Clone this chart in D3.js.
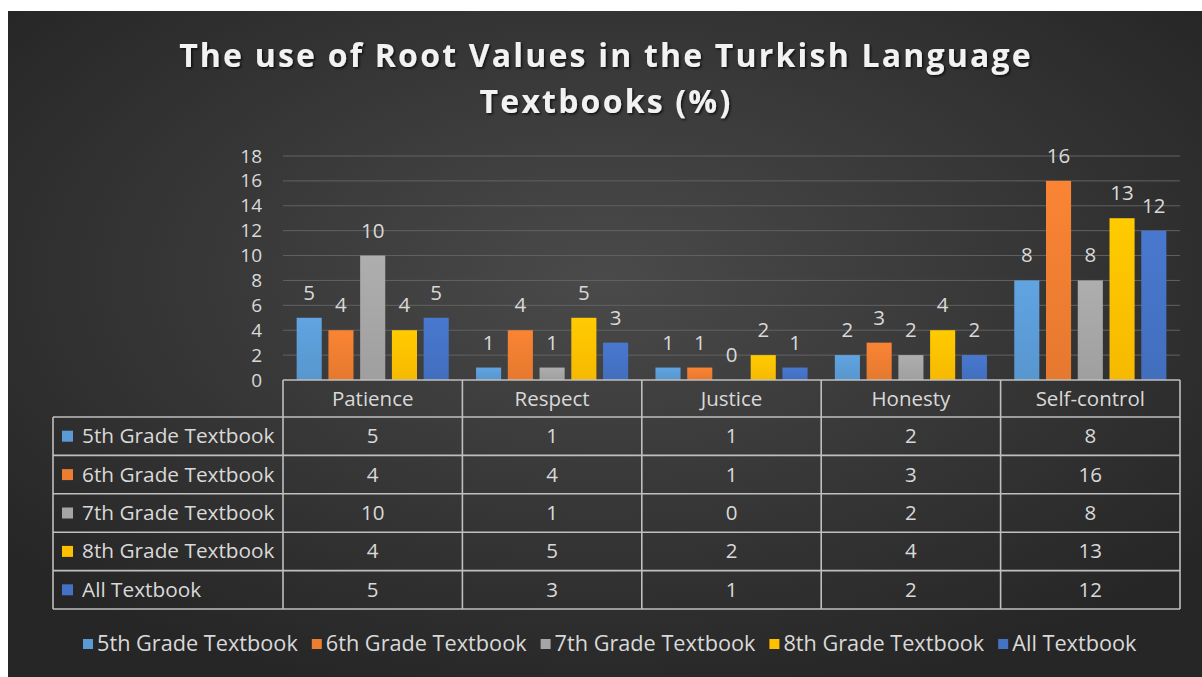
<!DOCTYPE html>
<html>
<head>
<meta charset="utf-8">
<script src="https://cdn.jsdelivr.net/npm/d3@7"></script>
<style>
  html, body { margin: 0; padding: 0; background: #fff; }
  svg { display: block; }
  text { font-family: "Open Sans", "Noto Sans", sans-serif; }
</style>
</head>
<body>
<div id="chart"></div>
<script>
const WIDTH = 1202;
const HEIGHT = 677;

// data
const categories = ["Patience", "Respect", "Justice", "Honesty", "Self-control"];
const seriesNames = ["5th Grade Textbook", "6th Grade Textbook", "7th Grade Textbook", "8th Grade Textbook", "All Textbook"];
const grade5 = [5, 1, 1, 2, 8];
const grade6 = [4, 4, 1, 3, 16];
const grade7 = [10, 1, 0, 2, 8];
const grade8 = [4, 5, 2, 4, 13];
const allBooks = [5, 3, 1, 2, 12];
const yTicks = [0, 2, 4, 6, 8, 10, 12, 14, 16, 18];
const titleLines = ["The use of Root Values in the Turkish Language", "Textbooks (%)"];

const seriesValues = [grade5, grade6, grade7, grade8, allBooks];
const colors = ["#5b9bd5", "#ed7d31", "#a5a5a5", "#ffc000", "#4472c4"];
const textColor = "#d9d9d9";
const lineColor = "#bfbfbf";

const plot = { left: 283, right: 1180, top: 156, bottom: 380 };
const table = { left: 53, headerBottom: 417, bottom: 609 };

let svg = d3.select("#chart").append("svg")
  .attr("width", WIDTH)
  .attr("height", HEIGHT);

let defs = svg.append("defs");

// background gradient
let bg = defs.append("radialGradient")
  .attr("id", "bg")
  .attr("cx", "0.5").attr("cy", "0.4").attr("r", "0.65");
bg.append("stop").attr("offset", "0%").attr("stop-color", "#4a4a4a");
bg.append("stop").attr("offset", "100%").attr("stop-color", "#262626");

// bar gradients, lighter at the top
colors.forEach((c, i) => {
  let g = defs.append("linearGradient")
    .attr("id", "bar" + i)
    .attr("x1", 0).attr("y1", 0).attr("x2", 0).attr("y2", 1);
  g.append("stop").attr("offset", "0%").attr("stop-color", d3.color(c).brighter(0.15));
  g.append("stop").attr("offset", "100%").attr("stop-color", d3.color(c).darker(0.1));
});

let shadow = defs.append("filter").attr("id", "shadow")
  .attr("x", "-5%").attr("y", "-20%").attr("width", "110%").attr("height", "140%");
shadow.append("feDropShadow")
  .attr("dx", 1.5).attr("dy", 1.5).attr("stdDeviation", 1.2)
  .attr("flood-color", "#000").attr("flood-opacity", 0.7);

svg.append("rect")
  .attr("x", 8).attr("y", 11)
  .attr("width", WIDTH - 8).attr("height", HEIGHT - 11)
  .attr("fill", "url(#bg)");

/* Title */
svg.append("g")
  .selectAll("text")
  .data(titleLines)
  .join("text")
  .attr("x", 606)
  .attr("y", (d, i) => 67 + i * 46)
  .attr("text-anchor", "middle")
  .attr("fill", "#f2f2f2")
  .attr("font-size", 32)
  .attr("font-weight", 700)
  .attr("letter-spacing", 2.2)
  .attr("filter", "url(#shadow)")
  .text(d => d);

/* Scales */
let x0 = d3.scaleBand()
  .domain(categories)
  .range([plot.left, plot.right])
  .padding(0);

let x1 = d3.scaleBand()
  .domain(seriesNames)
  .range([0, x0.bandwidth()])
  .paddingInner(0.21)
  .paddingOuter(0.43);

let y = d3.scaleLinear()
  .domain([0, 18])
  .range([plot.bottom, plot.top]);

let rows = d3.scaleBand()
  .domain(seriesNames)
  .range([table.headerBottom, table.bottom]);

/* Gridlines and y labels */
svg.append("g")
  .selectAll("line")
  .data(yTicks.filter(d => d > 0))
  .join("line")
  .attr("x1", plot.left).attr("x2", plot.right)
  .attr("y1", d => y(d)).attr("y2", d => y(d))
  .attr("stroke", "#626262")
  .attr("stroke-width", 1);

let yAxis = d3.axisLeft(y)
  .tickValues(yTicks)
  .tickSize(0)
  .tickPadding(21);

let yg = svg.append("g")
  .attr("transform", "translate(" + plot.left + ",0)")
  .call(yAxis);
yg.select(".domain").remove();
yg.selectAll("text")
  .attr("fill", textColor)
  .attr("font-size", 19)
  .attr("font-family", "'Open Sans', sans-serif");

/* Bars */
let groups = svg.append("g")
  .selectAll("g")
  .data(categories)
  .join("g")
  .attr("transform", d => "translate(" + x0(d) + ",0)");

groups.selectAll("rect")
  .data((c, ci) => seriesNames.map((s, si) => ({ s: s, si: si, v: seriesValues[si][ci] })))
  .join("rect")
  .attr("x", d => x1(d.s))
  .attr("width", x1.bandwidth())
  .attr("y", d => y(d.v))
  .attr("height", d => y(0) - y(d.v))
  .attr("fill", d => "url(#bar" + d.si + ")");

groups.selectAll("text")
  .data((c, ci) => seriesNames.map((s, si) => ({ s: s, si: si, v: seriesValues[si][ci] })))
  .join("text")
  .attr("x", d => x1(d.s) + x1.bandwidth() / 2)
  .attr("y", d => y(d.v) - 18)
  .attr("text-anchor", "middle")
  .attr("fill", textColor)
  .attr("font-size", 20.5)
  .text(d => d.v);

/* Data table */
let tbl = svg.append("g");

// header row text
tbl.selectAll(".head")
  .data(categories)
  .join("text")
  .attr("class", "head")
  .attr("x", d => x0(d) + x0.bandwidth() / 2)
  .attr("y", (plot.bottom + table.headerBottom) / 2 + 7)
  .attr("text-anchor", "middle")
  .attr("fill", textColor)
  .attr("font-size", 20.5)
  .text(d => d);

// row labels with legend keys
let rowG = tbl.selectAll(".row")
  .data(seriesNames)
  .join("g")
  .attr("class", "row")
  .attr("transform", d => "translate(0," + rows(d) + ")");

rowG.append("rect")
  .attr("x", table.left + 9)
  .attr("y", rows.bandwidth() / 2 - 5.5)
  .attr("width", 11).attr("height", 11)
  .attr("fill", (d, i) => colors[i]);

rowG.append("text")
  .attr("x", table.left + 29)
  .attr("y", rows.bandwidth() / 2 + 7)
  .attr("fill", textColor)
  .attr("font-size", 20.8)
  .text(d => d);

rowG.selectAll(".cell")
  .data((d, si) => categories.map((c, ci) => ({ c: c, v: seriesValues[si][ci] })))
  .join("text")
  .attr("class", "cell")
  .attr("x", d => x0(d.c) + x0.bandwidth() / 2)
  .attr("y", rows.bandwidth() / 2 + 7)
  .attr("text-anchor", "middle")
  .attr("fill", textColor)
  .attr("font-size", 20.5)
  .text(d => d.v);

// table lines
let hLines = [{ y: plot.bottom, x1: plot.left }]
  .concat(seriesNames.map(s => ({ y: rows(s), x1: table.left })))
  .concat([{ y: table.bottom, x1: table.left }]);

tbl.selectAll(".hline")
  .data(hLines)
  .join("line")
  .attr("class", "hline")
  .attr("x1", d => d.x1).attr("x2", plot.right)
  .attr("y1", d => d.y).attr("y2", d => d.y)
  .attr("stroke", lineColor).attr("stroke-width", 1.6);

let vLines = [{ x: table.left, y1: table.headerBottom }]
  .concat(categories.map(c => ({ x: x0(c), y1: plot.bottom })))
  .concat([{ x: plot.right, y1: plot.bottom }]);

tbl.selectAll(".vline")
  .data(vLines)
  .join("line")
  .attr("class", "vline")
  .attr("x1", d => d.x).attr("x2", d => d.x)
  .attr("y1", d => d.y1).attr("y2", table.bottom)
  .attr("stroke", lineColor).attr("stroke-width", 1.6);

/* Bottom legend */
let legend = svg.append("g").attr("transform", "translate(0,644)");
let lx = 83;
seriesNames.forEach((s, i) => {
  let item = legend.append("g").attr("transform", "translate(" + lx + ",0)");
  item.append("rect")
    .attr("x", 0).attr("y", -5)
    .attr("width", 10).attr("height", 10)
    .attr("fill", colors[i]);
  let t = item.append("text")
    .attr("x", 14).attr("y", 7)
    .attr("fill", textColor)
    .attr("font-size", 21.7)
    .text(s);
  lx += 14 + t.node().getComputedTextLength() + 14;
});
</script>
</body>
</html>
